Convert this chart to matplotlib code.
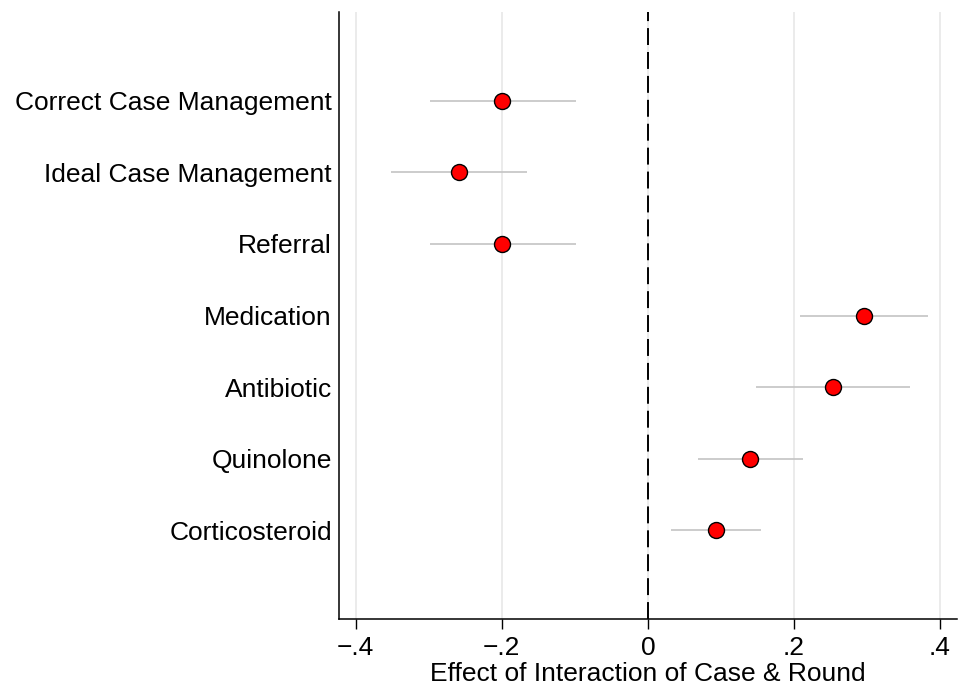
import matplotlib.pyplot as plt
import numpy as np

plt.rcParams['font.family'] = ['Liberation Sans', 'DejaVu Sans']

outcomes = ['Correct Case Management', 'Ideal Case Management', 'Referral',
            'Medication', 'Antibiotic', 'Quinolone', 'Corticosteroid']
estimate = [-0.200, -0.259, -0.200, 0.296, 0.254, 0.140, 0.093]
ci_low = [-0.299, -0.352, -0.299, 0.209, 0.148, 0.069, 0.032]
ci_high = [-0.098, -0.166, -0.098, 0.384, 0.359, 0.212, 0.155]

xticks = [-0.4, -0.2, 0, 0.2, 0.4]
xticklabels = ['\u2212.4', '\u2212.2', '0', '.2', '.4']

fig = plt.figure(figsize=(9.64, 6.87), dpi=100)
ax = fig.add_axes([0.3514, 0.0994, 0.641, 0.8827])

pos = np.arange(1, len(outcomes) + 1)

# light vertical grid plus dashed reference line at zero
for x in xticks:
    ax.axvline(x, color='#e6e6e6', lw=1.1, zorder=0)
ax.axvline(0, color='black', lw=1.4, dashes=(8.7, 3.6), zorder=1)

# confidence intervals and point estimates
ax.hlines(pos, ci_low, ci_high, color='#c4c4c4', lw=1.2, zorder=2)
ax.plot(estimate, pos, 'o', ms=11.5, mfc='red', mec='black', mew=1.0,
        zorder=3, ls='none')

ax.set_yticks(pos)
ax.set_yticklabels(outcomes)
ax.set_xticks(xticks)
ax.set_xticklabels(xticklabels)
ax.set_xlim(-0.4233, 0.4229)
ax.set_ylim(8.24, -0.24)
ax.tick_params(axis='y', length=0, pad=5, labelsize=19)
ax.tick_params(axis='x', length=7.2, width=1, pad=5, labelsize=19)
ax.set_xlabel('Effect of Interaction of Case & Round', fontsize=19, labelpad=1.5)

for side in ['top', 'right']:
    ax.spines[side].set_visible(False)
for side in ['left', 'bottom']:
    ax.spines[side].set_linewidth(1.1)

fig.savefig('out.png', dpi=100)
